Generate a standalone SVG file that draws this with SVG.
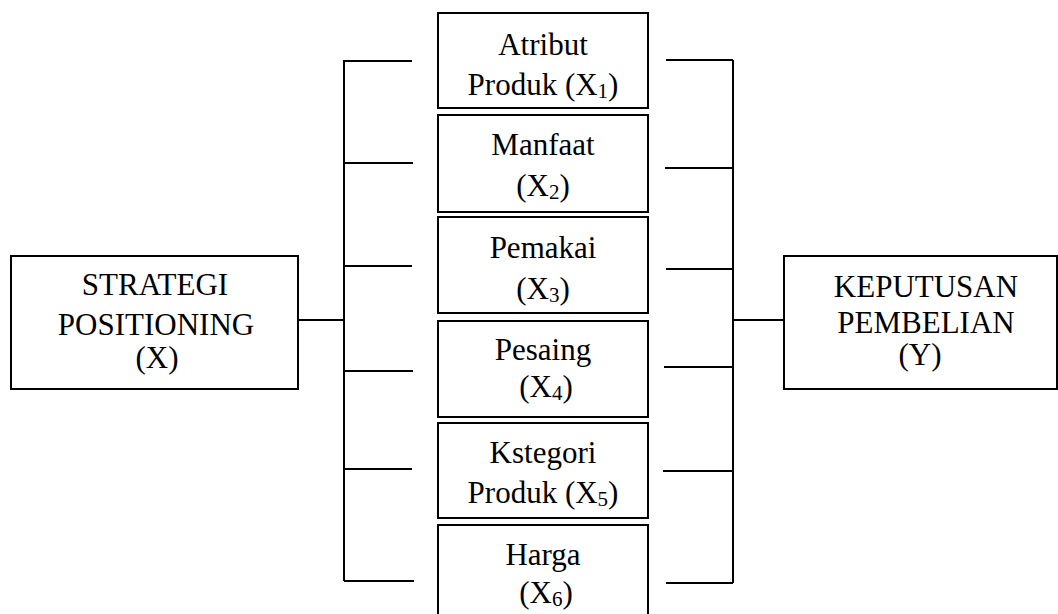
<svg xmlns="http://www.w3.org/2000/svg" width="1058" height="614" viewBox="0 0 1058 614">
<style>
.box{fill:#fff;stroke:#000;stroke-width:2}
.ln{stroke:#000;stroke-width:2;fill:none}
text{font-family:"Liberation Serif","Times New Roman",serif;font-size:31px;fill:#000;text-anchor:middle}
.sub{font-size:21px}
</style>
<rect width="1058" height="614" fill="#fff"/>
<g id="connectors">
<path class="ln" d="M298,320 H344 M344,60 V581 M344,61 H412 M344,163 H413 M344,266 H412 M344,371 H413 M344,469 H412 M344,581 H414"/>
<path class="ln" d="M733,60 V583 M666,60 H733 M665,168 H733 M666,269 H733 M664,367 H733 M663,471 H733 M666,583 H733 M733,320 H784"/>
</g>
<g id="strategi">
<rect class="box" x="11" y="256" width="287" height="133"/>
<text x="155" y="295">STRATEGI</text>
<text x="156" y="335">POSITIONING</text>
<text x="157" y="368">(X)</text>
</g>
<g id="keputusan">
<rect class="box" x="784" y="256" width="273" height="133"/>
<text x="926" y="297">KEPUTUSAN</text>
<text x="926" y="333">PEMBELIAN</text>
<text x="920" y="365">(Y)</text>
</g>
<g id="x1">
<rect class="box" x="438" y="13" width="210" height="95"/>
<text x="543" y="55">Atribut</text>
<text x="543" y="95">Produk (X<tspan class="sub" dy="3">1</tspan><tspan dy="-3">)</tspan></text>
</g>
<g id="x2">
<rect class="box" x="438" y="115" width="210" height="97"/>
<text x="543" y="155">Manfaat</text>
<text x="543" y="196">(X<tspan class="sub" dy="3">2</tspan><tspan dy="-3">)</tspan></text>
</g>
<g id="x3">
<rect class="box" x="438" y="217" width="210" height="96"/>
<text x="543" y="258">Pemakai</text>
<text x="543" y="299">(X<tspan class="sub" dy="3">3</tspan><tspan dy="-3">)</tspan></text>
</g>
<g id="x4">
<rect class="box" x="438" y="321" width="210" height="96"/>
<text x="543" y="360">Pesaing</text>
<text x="546" y="397">(X<tspan class="sub" dy="3">4</tspan><tspan dy="-3">)</tspan></text>
</g>
<g id="x5">
<rect class="box" x="438" y="423" width="210" height="95"/>
<text x="543" y="463">Kstegori</text>
<text x="543" y="503">Produk (X<tspan class="sub" dy="3">5</tspan><tspan dy="-3">)</tspan></text>
</g>
<g id="x6">
<rect class="box" x="438" y="525" width="210" height="100"/>
<text x="543" y="565">Harga</text>
<text x="546" y="603">(X<tspan class="sub" dy="3">6</tspan><tspan dy="-3">)</tspan></text>
</g>
</svg>
